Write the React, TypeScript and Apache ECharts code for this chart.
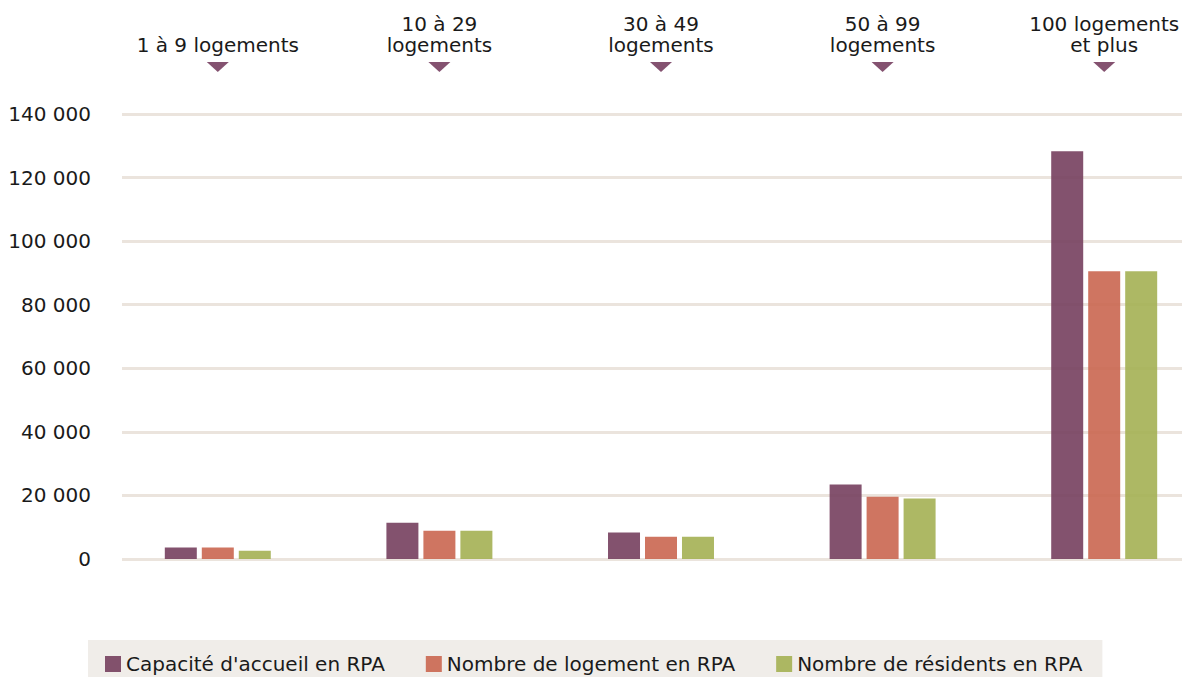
import React, { useEffect, useRef } from "react";
import * as echarts from "echarts";

const categories = ["1 à 9 logements", "10 à 29\nlogements", "30 à 49\nlogements", "50 à 99\nlogements", "100 logements\net plus"];
const capacite = [3600, 11400, 8300, 23400, 128300];
const logements = [3600, 8900, 7000, 19600, 90500];
const residents = [2600, 8900, 7000, 19000, 90500];
const seriesNames = ["Capacité d'accueil en RPA", "Nombre de logement en RPA", "Nombre de résidents en RPA"];
const markerValues = [1, 1, 1, 1, 1];

const FONT = "'DejaVu Sans', Verdana, sans-serif";
const CHART_W = 1215;

export default function App() {
  const ref = useRef<HTMLDivElement>(null);
  useEffect(() => {
    if (!ref.current) return;
    const chart = echarts.init(ref.current, undefined, { renderer: "svg" });
    const barCommon = {
      type: "bar",
      xAxisIndex: 0,
      yAxisIndex: 0,
      barWidth: 32,
      barGap: "15.6%",
      itemStyle: { opacity: 0.9 },
      emphasis: { disabled: true },
    };
    chart.setOption({
      animation: false,
      textStyle: { fontFamily: FONT },
      grid: [
        { left: 107, right: 0, top: 114, bottom: 118 },
        { left: 122, right: CHART_W - 1182, top: 114, bottom: 118 },
        { left: 107, right: 0, top: 62, height: 10 },
      ],
      xAxis: [
        { type: "category", gridIndex: 0, data: categories, show: false },
        { type: "value", gridIndex: 1, show: false, min: 0, max: 1 },
        {
          type: "category",
          gridIndex: 2,
          data: categories,
          position: "top",
          axisLine: { show: false },
          axisTick: { show: false },
          axisLabel: {
            margin: 7,
            fontSize: 20,
            lineHeight: 21,
            color: "#1a1a1a",
            fontFamily: FONT,
            interval: 0,
          },
        },
      ],
      yAxis: [
        { type: "value", gridIndex: 0, min: 0, max: 140000, interval: 20000, show: false },
        {
          type: "value",
          gridIndex: 1,
          min: 0,
          max: 140000,
          interval: 20000,
          axisLine: { show: false },
          axisTick: { show: false },
          axisLabel: {
            margin: 31,
            fontSize: 20,
            color: "#1a1a1a",
            fontFamily: FONT,
            formatter: (v: number) => (v >= 1000 ? `${Math.floor(v / 1000)} ${String(v % 1000).padStart(3, "0")}` : String(v)),
          },
          splitLine: { lineStyle: { color: "#ebe4dd", width: 3 } },
        },
        { type: "value", gridIndex: 2, min: 0, max: 1, show: false },
      ],
      legend: {
        left: 88,
        top: 640,
        padding: [14, 20, 14, 17],
        backgroundColor: "#f0ede9",
        itemWidth: 16,
        itemHeight: 16,
        itemGap: 41,
        icon: "rect",
        textStyle: { fontSize: 20, color: "#1a1a1a", fontFamily: FONT },
        data: seriesNames,
      },
      series: [
        { ...barCommon, name: seriesNames[0], data: capacite, color: "#763f5e" },
        { ...barCommon, name: seriesNames[1], data: logements, color: "#ca6650" },
        { ...barCommon, name: seriesNames[2], data: residents, color: "#a4b053" },
        {
          type: "scatter",
          xAxisIndex: 2,
          yAxisIndex: 2,
          data: markerValues.map((v) => v * 0.5),
          symbol: "triangle",
          symbolRotate: 180,
          symbolSize: [22, 10],
          itemStyle: { color: "#845270", opacity: 1 },
          silent: true,
        },
      ],
    });
    return () => chart.dispose();
  }, []);
  return (
    <div style={{ position: "absolute", left: 0, top: 0, width: 1182, height: 677, overflow: "hidden" }}>
      <div ref={ref} style={{ width: CHART_W, height: 677 }} />
    </div>
  );
}
